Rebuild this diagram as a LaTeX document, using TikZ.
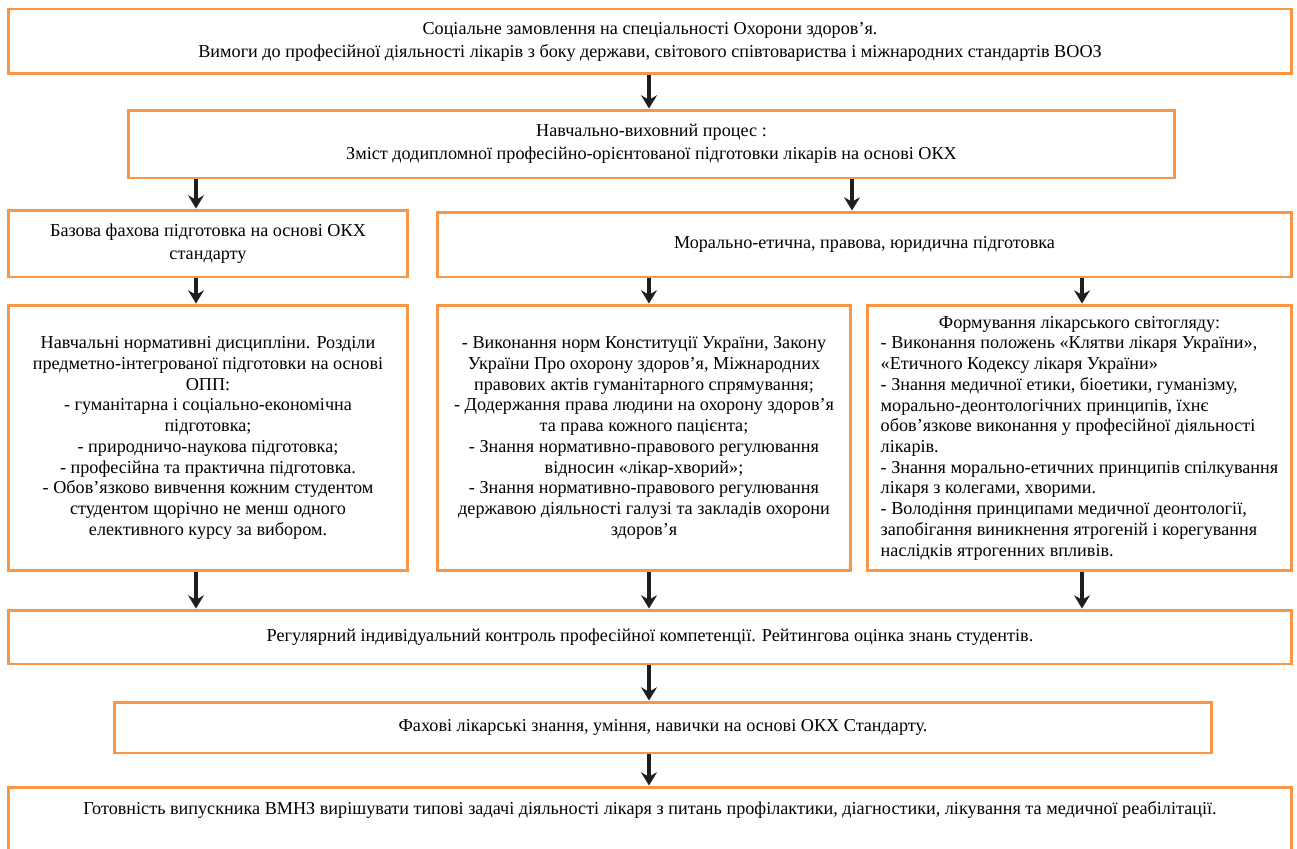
\documentclass[tikz,border=0pt]{standalone}
\usepackage{fontspec}
\setmainfont{Liberation Serif}
\usepackage{xcolor}
\usetikzlibrary{arrows.meta}
\definecolor{frame}{RGB}{247,150,70}
\definecolor{flow}{RGB}{30,30,30}
\tikzstyle{box}=[draw=frame, line width=1.7pt, fill=white, rectangle, inner sep=3pt, align=center, font=\fontsize{10.35}{11.8}\selectfont]
\tikzset{link/.style={-{Stealth[length=7.5pt,width=9pt,inset=2.5pt]}, line width=2pt, color=flow}}

\begin{document}
\begin{tikzpicture}[x=0.02cm, y=-0.02cm]
  \useasboundingbox (0,0) rectangle (1297,848);
  %% columns of the arrows
  \coordinate (colA) at (196,0);
  \coordinate (colB) at (649,0);
  \coordinate (colM) at (852,0);
  \coordinate (colC) at (1082,0);

  \draw (650,41.5) node[box, minimum width=25.68cm, minimum height=1.30cm, font=\fontsize{10.35}{13}\selectfont] (B1)
    {Соціальне замовлення на спеціальності Охорони здоров’я.\\
     Вимоги до професійної діяльності лікарів з боку держави, світового співтовариства і міжнародних стандартів ВООЗ};
  \draw (651.5,144) node[box, minimum width=20.94cm, minimum height=1.36cm, font=\fontsize{10.35}{13}\selectfont] (B2)
    {Навчально-виховний процес :\\
     Зміст додипломної професійно-орієнтованої підготовки лікарів на основі ОКХ};

  \draw (208,243.5) node[box, minimum width=8cm, minimum height=1.34cm, font=\fontsize{10.35}{13}\selectfont] (B3a)
    {Базова фахова підготовка на основі ОКХ\\ стандарту};
  \draw (864.5,244.5) node[box, minimum width=17.1cm, minimum height=1.30cm] (B3b)
    {Морально-етична, правова, юридична підготовка};

  \draw (208,438) node[box, minimum width=8cm, minimum height=5.32cm] (B4a)
    {Навчальні нормативні дисципліни. Розділи\\
     предметно-інтегрованої підготовки на основі\\
     ОПП:\\
     - гуманітарна і соціально-економічна\\
     підготовка;\\
     - природничо-наукова підготовка;\\
     - професійна та практична підготовка.\\
     - Обов’язково вивчення кожним студентом\\
     студентом щорічно не менш одного\\
     елективного курсу за вибором.};
  \draw (644,438) node[box, minimum width=8.28cm, minimum height=5.32cm] (B4b)
    {- Виконання норм Конституції України, Закону\\
     України Про охорону здоров’я, Міжнародних\\
     правових актів гуманітарного спрямування;\\
     - Додержання права людини на охорону здоров’я\\
     та права кожного пацієнта;\\
     - Знання нормативно-правового регулювання\\
     відносин «лікар-хворий»;\\
     - Знання нормативно-правового регулювання\\
     державою діяльності галузі та закладів охорони\\
     здоров’я};
  \draw (1079.5,438) node[box, minimum width=8.5cm, minimum height=5.32cm] (B4c)
    {\begin{tabular}{@{}l@{}}
     \multicolumn{1}{@{}c@{}}{Формування лікарського світогляду:}\\
     - Виконання положень «Клятви лікаря України»,\\
     «Етичного Кодексу лікаря України»\\
     - Знання медичної етики, біоетики, гуманізму,\\
     морально-деонтологічних принципів, їхнє\\
     обов’язкове виконання у професійної діяльності\\
     лікарів.\\
     - Знання морально-етичних принципів спілкування\\
     лікаря з колегами, хворими.\\
     - Володіння принципами медичної деонтології,\\
     запобігання виникнення ятрогеній і корегування\\
     наслідків ятрогенних впливів.
     \end{tabular}};

  \draw (650,637) node[box, minimum width=25.68cm, minimum height=1.08cm] (B5)
    {Регулярний індивідуальний контроль професійної компетенції. Рейтингова оцінка знань студентів.};
  \draw (663,727.5) node[box, minimum width=21.94cm, minimum height=1.02cm] (B6)
    {Фахові лікарські знання, уміння, навички на основі ОКХ Стандарту.};
  \draw (650,827) node[box, minimum width=25.68cm, minimum height=1.6cm, text height=8pt, text depth=22pt] (B7)
    {Готовність випускника ВМНЗ вирішувати типові задачі діяльності лікаря з питань профілактики, діагностики, лікування та медичної реабілітації.};

  %% Arrows
  \draw[link] (B1.south -| colB) -- (B2.north -| colB);
  \draw[link] (B2.south -| colA) -- (B3a.north -| colA);
  \draw[link] (B2.south -| colM) -- (B3b.north -| colM);

  \draw[link] (B3a.south -| colA) -- (B4a.north -| colA);
  \draw[link] (B3b.south -| colB) -- (B4b.north -| colB);
  \draw[link] (B3b.south -| colC) -- (B4c.north -| colC);

  \draw[link] (B4a.south -| colA) -- (B5.north -| colA);
  \draw[link] (B4b.south -| colB) -- (B5.north -| colB);
  \draw[link] (B4c.south -| colC) -- (B5.north -| colC);

  \draw[link] (B5.south -| colB) -- (B6.north -| colB);
  \draw[link] (B6.south -| colB) -- (B7.north -| colB);
\end{tikzpicture}
\end{document}
